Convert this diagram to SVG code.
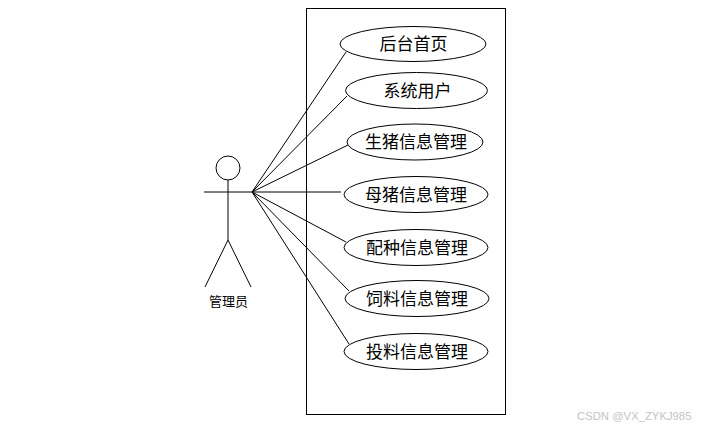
<svg xmlns="http://www.w3.org/2000/svg" width="709" height="428" viewBox="0 0 709 428">
<style>
.s{fill:none;stroke:#000;stroke-width:1}
.e{fill:#fff;stroke:#000;stroke-width:1}
.t{font-family:"Noto Sans CJK SC","Liberation Sans",sans-serif;font-size:17px;fill:#000;text-anchor:middle}
.a{font-family:"Noto Sans CJK SC","Liberation Sans",sans-serif;font-size:13px;fill:#000;text-anchor:middle}
.w{font-family:"Liberation Sans",sans-serif;font-size:11.300px;fill:#c4c4c4}
</style>
<rect width="709" height="428" fill="#fff"/>
<rect id="boundary" class="s" x="306.500" y="8.500" width="199" height="406"/>
<g id="connectors" class="s">
<line x1="252" y1="192" x2="346" y2="52"/>
<line x1="252" y1="192" x2="347" y2="96"/>
<line x1="252" y1="192" x2="348" y2="145"/>
<line x1="252" y1="192" x2="341" y2="192"/>
<line x1="252" y1="192" x2="346" y2="242"/>
<line x1="252" y1="192" x2="349" y2="291"/>
<line x1="252" y1="192" x2="349" y2="344"/>
</g>
<g id="actor">
<circle class="s" cx="228" cy="168" r="12"/>
<line class="s" x1="228" y1="180" x2="228" y2="240"/>
<line class="s" x1="204" y1="192" x2="252" y2="192"/>
<line class="s" x1="228" y1="240" x2="205" y2="287"/>
<line class="s" x1="228" y1="240" x2="251" y2="287"/>
<text class="a" x="228.500" y="306">管理员</text>
</g>
<g id="uc1"><ellipse class="e" cx="413" cy="44" rx="73" ry="17.500"/><text class="t" x="413.500" y="50">后台首页</text></g>
<g id="uc2"><ellipse class="e" cx="416.500" cy="90.500" rx="71" ry="18"/><text class="t" x="417.500" y="97">系统用户</text></g>
<g id="uc3"><ellipse class="e" cx="415" cy="142" rx="68" ry="18"/><text class="t" x="416" y="148">生猪信息管理</text></g>
<g id="uc4"><ellipse class="e" cx="416" cy="194.500" rx="72" ry="18"/><text class="t" x="416" y="201">母猪信息管理</text></g>
<g id="uc5"><ellipse class="e" cx="416" cy="247.500" rx="72" ry="18"/><text class="t" x="417" y="254">配种信息管理</text></g>
<g id="uc6"><ellipse class="e" cx="417" cy="298.500" rx="72" ry="18"/><text class="t" x="417" y="305">饲料信息管理</text></g>
<g id="uc7"><ellipse class="e" cx="416" cy="351.500" rx="72" ry="18"/><text class="t" x="417" y="358">投料信息管理</text></g>
<text class="w" x="577" y="420">CSDN @VX_ZYKJ985</text>
</svg>
